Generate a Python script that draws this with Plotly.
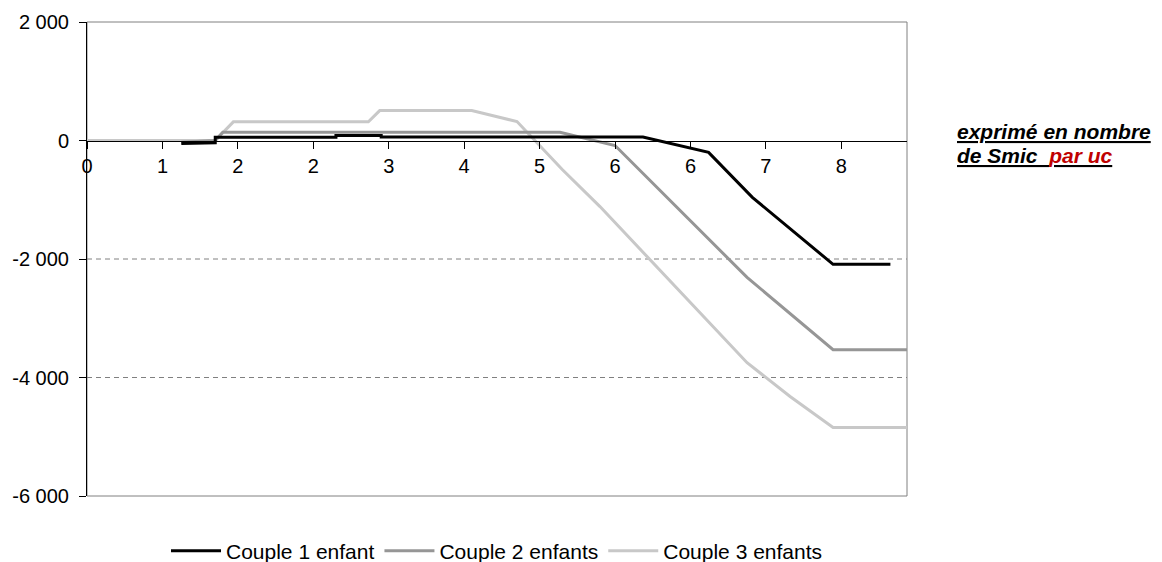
import plotly.graph_objects as go

# Data (x in units of Smic per uc, y in euros)
x_c1 = [1.25, 1.70, 1.70, 3.30, 3.30, 3.90, 3.90, 7.37, 8.24, 8.82, 9.89, 10.65]
y_c1 = [-50, -40, 55, 55, 85, 85, 60, 60, -200, -960, -2090, -2090]

x_c2 = [1.25, 1.70, 1.80, 6.27, 7.00, 8.75, 9.89, 10.87]
y_c2 = [-30, 0, 140, 140, -85, -2310, -3530, -3530]

x_c3 = [0.0, 1.70, 1.94, 3.73, 3.88, 5.10, 5.70, 6.30, 6.80, 8.75, 9.32, 9.89, 10.87]
y_c3 = [0, 0, 315, 315, 505, 505, 320, -490, -1115, -3750, -4320, -4845, -4845]

series_names = ["Couple 1 enfant", "Couple 2 enfants", "Couple 3 enfants"]
series_colors = ["#000000", "#969696", "#C8C8C8"]

x_tickvals = [0, 1, 2, 3, 4, 5, 6, 7, 8, 9, 10]
x_ticktext = ["0", "1", "2", "2", "3", "4", "5", "6", "6", "7", "8"]
y_tickvals = [2000, 0, -2000, -4000, -6000]
y_ticktext = ["2 000", "0", "-2 000", "-4 000", "-6 000"]

FONT = "Liberation Sans, Arial, sans-serif"

fig = go.Figure()
for xs, ys, name, col in zip([x_c1, x_c2, x_c3], [y_c1, y_c2, y_c3], series_names, series_colors):
    fig.add_trace(go.Scatter(x=xs, y=ys, mode="lines", name=name,
                             line=dict(color=col, width=3)))
# draw order: light gray behind, black on top
fig.data = (fig.data[2], fig.data[1], fig.data[0])

fig.update_layout(
    width=1162, height=562,
    margin=dict(l=79, r=263, t=14, b=74),
    paper_bgcolor="white", plot_bgcolor="white",
    font=dict(family=FONT, size=20, color="black"),
    showlegend=True,
    legend=dict(orientation="h", x=0.5, xanchor="center", xref="paper",
                y=1 - 543 / 562, yanchor="middle", yref="container",
                traceorder="reversed", font=dict(size=21), itemwidth=50,
                tracegroupgap=0),
    xaxis=dict(range=[0, 10.87], tickvals=x_tickvals, ticktext=x_ticktext,
               anchor="free", position=0.75, showgrid=False, zeroline=False,
               showline=True, linecolor="black", linewidth=1,
               ticks="outside", ticklen=7, tickcolor="black",
               tickfont=dict(size=20), automargin=False),
    yaxis=dict(range=[-6000, 2000], tickvals=y_tickvals, ticktext=y_ticktext,
               showgrid=False, zeroline=False, showline=True, linecolor="black",
               linewidth=1, ticks="outside", ticklen=7, tickcolor="black",
               tickfont=dict(size=20), ticklabelstandoff=6, automargin=False),
)

# plot frame (gray) and dashed gridlines
fig.add_shape(type="rect", xref="paper", yref="paper", x0=0, x1=1, y0=0, y1=1,
              line=dict(color="#808080", width=1), layer="below")
for gy in [-2000, -4000]:
    fig.add_shape(type="line", xref="paper", yref="y", x0=0, x1=1, y0=gy, y1=gy,
                  line=dict(color="#808080", width=1, dash="5px,4px"), layer="below")

fig.add_annotation(
    xref="paper", yref="paper", x=1.0585, y=0.768, xanchor="left", yanchor="middle",
    align="left", showarrow=False,
    text="<b><i><u>exprimé en nombre</u></i></b>",
    font=dict(family=FONT, size=21, color="black"),
)
fig.add_annotation(
    xref="paper", yref="paper", x=1.0585, y=0.719, xanchor="left", yanchor="middle",
    align="left", showarrow=False,
    text="<b><i><u>de Smic  </u></i></b>"
         "<b><i><u><span style='color:#C00000'>par uc</span></u></i></b>",
    font=dict(family=FONT, size=21, color="black"),
)

fig.write_html("out.html")
